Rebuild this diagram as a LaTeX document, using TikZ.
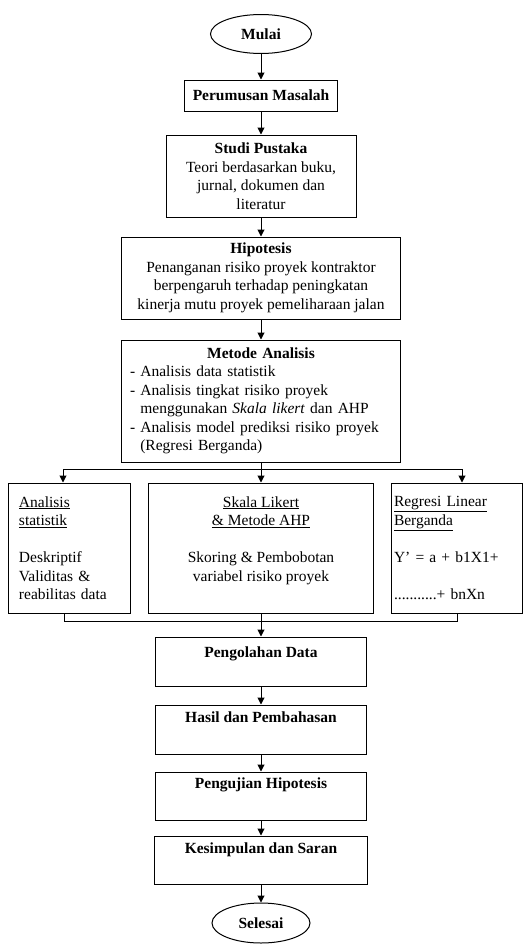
\documentclass[tikz,border=0pt]{standalone}
\usepackage{fontspec}
\setmainfont{Liberation Serif}
\usetikzlibrary{arrows.meta,positioning,shapes.geometric}

\begin{document}
\begin{tikzpicture}[x=1pt,y=-1pt,
  >={Triangle[length=7pt,width=7pt]},
  every node/.style={font=\fontsize{15.5}{18.5}\selectfont},
  term/.style={draw, ellipse, line width=1pt, inner sep=0pt},
  box/.style={draw, rectangle, line width=1pt, inner sep=0pt, align=center},
  ln/.style={line width=1pt},
  ar/.style={line width=1pt, ->},
]
\useasboundingbox (0,0) rectangle (524,945);
% main column
\node[term, minimum width=101, minimum height=39] (mulai) at (261,34) {\textbf{Mulai}};
\node[box, minimum width=153, minimum height=31] (rumus) at (261,95.5) {\textbf{Perumusan Masalah}};
\node[box, minimum width=190, minimum height=82] (studi) at (261,176) {\textbf{Studi Pustaka}\\Teori berdasarkan buku,\\jurnal, dokumen dan\\literatur};
\node[box, minimum width=279, minimum height=82] (hipo) at (261,278) {\textbf{Hipotesis}\\Penanganan risiko proyek kontraktor\\berpengaruh terhadap peningkatan\\kinerja mutu proyek pemeliharaan jalan};
\node[box, minimum width=279, minimum height=122, text width=262, align=left] (metode) at (261,401) {\makebox[262pt]{\textbf{Metode Analisis}}\\- Analisis data statistik\\- Analisis tingkat risiko proyek\\\phantom{- }menggunakan \textit{Skala likert} dan AHP\\- Analisis model prediksi risiko proyek\\\phantom{- }(Regresi Berganda)};
% three methods
\node[box, minimum width=122, minimum height=130, text width=100, align=left] (stat) at (69,548) {\underline{Analisis}\\\underline{statistik}\\[18.5pt]Deskriptif\\Validitas \&\\reabilitas data};
\node[box, minimum width=225, minimum height=130] (likert) at (261,548) {\underline{Skala Likert}\\\underline{\& Metode AHP}\\[18.5pt]Skoring \& Pembobotan\\variabel risiko proyek\\\mbox{}};
\node[box, minimum width=131, minimum height=130, text width=125, align=left] (regresi) at (456.5,548) {\underline{Regresi Linear}\\\underline{Berganda}\\[18.5pt]Y' = a + b1X1+\\[19pt]...........+ bnXn};
% lower column
\node[box, minimum width=211, text height=20, text depth=29] (olah) at (261,661.5) {\textbf{Pengolahan Data}};
\node[box, minimum width=211, text height=17, text depth=32] (hasil) at (261,729.5) {\textbf{Hasil dan Pembahasan}};
\node[box, minimum width=211, text height=16, text depth=32] (uji) at (261,796) {\textbf{Pengujian Hipotesis}};
\node[box, minimum width=213, text height=17, text depth=31] (simpul) at (261,860) {\textbf{Kesimpulan dan Saran}};
\node[term, minimum width=98, minimum height=40] (selesai) at (261,923) {\textbf{Selesai}};
% connectors
\draw[ar] (mulai) -- (rumus);
\draw[ar] (rumus) -- (studi);
\draw[ar] (studi) -- (hipo);
\draw[ar] (hipo) -- (metode);
\coordinate (split) at (261,469);
\coordinate (splitL) at (63,469);
\coordinate (splitR) at (462,469);
\draw[ln] (metode) -- (split);
\draw[ln] (splitL) -- (splitR);
\draw[ar] (splitL) -- (splitL |- stat.north);
\draw[ar] (split) -- (likert);
\draw[ar] (splitR) -- (splitR |- regresi.north);
\coordinate (join) at (261,621);
\coordinate (joinL) at (64,621);
\coordinate (joinR) at (457,621);
\draw[ln] (stat.south -| joinL) -- (joinL) -- (joinR) -- (regresi.south -| joinR);
\draw[ln] (likert) -- (join);
\draw[ar] (join) -- (olah);
\draw[ar] (olah) -- (hasil);
\draw[ar] (hasil) -- (uji);
\draw[ar] (uji) -- (simpul);
\draw[ar] (simpul) -- (selesai);
\end{tikzpicture}
\end{document}
